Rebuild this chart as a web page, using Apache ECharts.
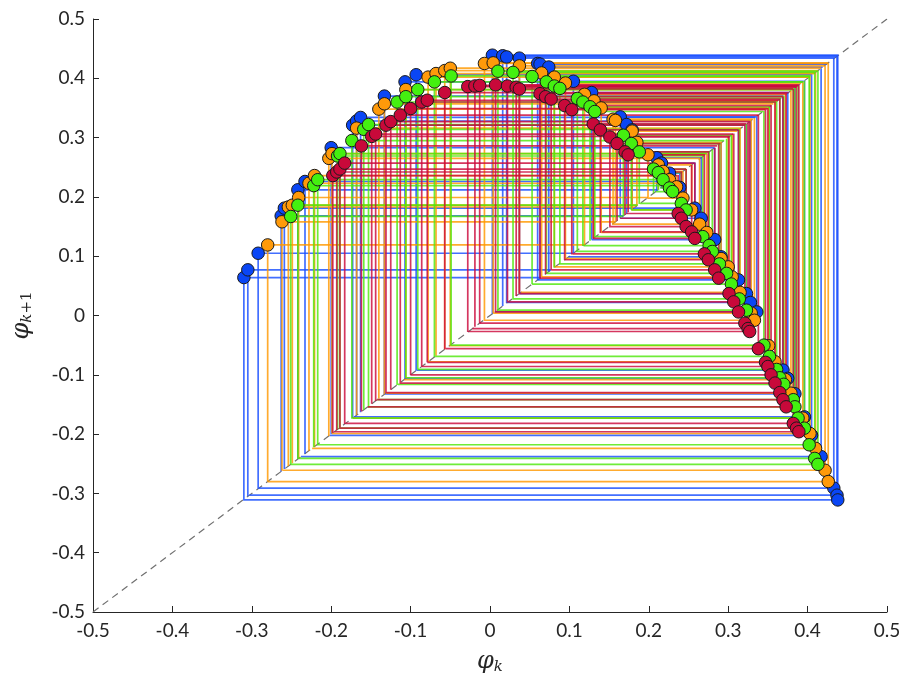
<!DOCTYPE html>
<html>
<head>
<meta charset="utf-8">
<script src="https://cdn.jsdelivr.net/npm/echarts@6/dist/echarts.min.js"></script>
<style>
  html, body { margin: 0; padding: 0; background: #fff; }
  #chart { width: 917px; height: 675px; }
</style>
</head>
<body>
<div id="chart"></div>
<script>
// Return-map points [phi_k, phi_k+1] for four trajectories.
const blueSeries = [
  [-0.310, 0.064], [-0.305, 0.077], [-0.292, 0.105], [-0.263, 0.168], [-0.259, 0.181],
  [-0.242, 0.212], [-0.233, 0.226], [-0.200, 0.283], [-0.173, 0.321], [-0.168, 0.328],
  [-0.163, 0.334], [-0.133, 0.370], [-0.107, 0.394], [-0.093, 0.406], [0.003, 0.439],
  [0.016, 0.438], [0.021, 0.436], [0.037, 0.434], [0.060, 0.425], [0.063, 0.424],
  [0.074, 0.419], [0.105, 0.395], [0.128, 0.376], [0.164, 0.335], [0.172, 0.322],
  [0.179, 0.313], [0.210, 0.266], [0.216, 0.257], [0.226, 0.240], [0.239, 0.216],
  [0.258, 0.181], [0.266, 0.164], [0.283, 0.128], [0.291, 0.099], [0.313, 0.060],
  [0.323, 0.037], [0.328, 0.022], [0.336, 0.006], [0.369, -0.092], [0.375, -0.106],
  [0.384, -0.132], [0.396, -0.171], [0.405, -0.202], [0.417, -0.238], [0.433, -0.291],
  [0.437, -0.303], [0.438, -0.311]
];
const orangeSeries = [
  [-0.280, 0.119], [-0.262, 0.158], [-0.254, 0.183], [-0.249, 0.186], [-0.241, 0.199],
  [-0.228, 0.223], [-0.221, 0.236], [-0.203, 0.265], [-0.199, 0.273], [-0.168, 0.316],
  [-0.140, 0.348], [-0.133, 0.357], [-0.106, 0.381], [-0.078, 0.402], [-0.068, 0.408],
  [-0.057, 0.413], [-0.050, 0.417], [-0.007, 0.425], [0.004, 0.426], [0.037, 0.421],
  [0.065, 0.409], [0.081, 0.402], [0.095, 0.392], [0.119, 0.373], [0.131, 0.362],
  [0.140, 0.350], [0.155, 0.331], [0.158, 0.329], [0.179, 0.311], [0.185, 0.292],
  [0.199, 0.271], [0.212, 0.254], [0.218, 0.243], [0.226, 0.229], [0.235, 0.217],
  [0.243, 0.198], [0.254, 0.178], [0.264, 0.154], [0.273, 0.140], [0.291, 0.096],
  [0.300, 0.082], [0.305, 0.065], [0.315, 0.039], [0.329, 0.004], [0.333, -0.008],
  [0.351, -0.051], [0.359, -0.078], [0.372, -0.108], [0.379, -0.131], [0.394, -0.173],
  [0.403, -0.199], [0.410, -0.224], [0.422, -0.261], [0.426, -0.280]
];
const greenSeries = [
  [-0.251, 0.167], [-0.242, 0.186], [-0.222, 0.219], [-0.217, 0.229], [-0.192, 0.269],
  [-0.189, 0.273], [-0.174, 0.295], [-0.159, 0.314], [-0.153, 0.322], [-0.117, 0.360],
  [-0.106, 0.369], [-0.091, 0.381], [-0.070, 0.394], [-0.049, 0.404], [0.010, 0.412],
  [0.029, 0.410], [0.053, 0.403], [0.071, 0.394], [0.081, 0.387], [0.088, 0.383],
  [0.110, 0.366], [0.117, 0.360], [0.126, 0.352], [0.132, 0.344], [0.168, 0.304],
  [0.178, 0.290], [0.188, 0.276], [0.206, 0.247], [0.212, 0.241], [0.218, 0.229],
  [0.226, 0.215], [0.230, 0.209], [0.241, 0.189], [0.247, 0.178], [0.268, 0.133],
  [0.276, 0.118], [0.280, 0.108], [0.289, 0.087], [0.298, 0.071], [0.304, 0.053],
  [0.314, 0.028], [0.323, 0.009], [0.345, -0.050], [0.352, -0.069], [0.361, -0.091],
  [0.365, -0.105], [0.370, -0.116], [0.382, -0.142], [0.384, -0.154], [0.388, -0.173],
  [0.396, -0.190], [0.402, -0.218], [0.409, -0.241], [0.413, -0.251]
];
const crimsonSeries = [
  [-0.198, 0.236], [-0.193, 0.242], [-0.189, 0.247], [-0.183, 0.257], [-0.162, 0.286],
  [-0.149, 0.302], [-0.144, 0.306], [-0.131, 0.321], [-0.125, 0.327], [-0.113, 0.338],
  [-0.100, 0.349], [-0.086, 0.360], [-0.079, 0.363], [-0.057, 0.376], [-0.028, 0.386],
  [-0.019, 0.387], [-0.013, 0.388], [0.007, 0.389], [0.022, 0.387], [0.033, 0.385],
  [0.037, 0.382], [0.063, 0.374], [0.070, 0.369], [0.077, 0.365], [0.094, 0.354],
  [0.103, 0.347], [0.130, 0.323], [0.139, 0.313], [0.151, 0.301], [0.160, 0.290],
  [0.170, 0.276], [0.174, 0.271], [0.237, 0.172], [0.241, 0.164], [0.247, 0.150],
  [0.254, 0.141], [0.258, 0.130], [0.270, 0.104], [0.275, 0.094], [0.283, 0.077],
  [0.288, 0.063], [0.301, 0.037], [0.307, 0.023], [0.313, 0.006], [0.321, -0.013],
  [0.325, -0.022], [0.327, -0.027], [0.338, -0.056], [0.347, -0.079], [0.350, -0.086],
  [0.354, -0.100], [0.359, -0.114], [0.365, -0.130], [0.369, -0.142], [0.373, -0.154],
  [0.382, -0.182], [0.386, -0.190], [0.389, -0.196]
];

const identityLine = [[-0.5, -0.5], [0.5, 0.5]];

const groups = [
  { data: blueSeries,    fill: '#0a46f5', line: '#1a4fff' },
  { data: orangeSeries,  fill: '#ff9a0a', line: '#ff9800' },
  { data: greenSeries,   fill: '#44f010', line: '#4fe80c' },
  { data: crimsonSeries, fill: '#c8093a', line: '#cc0a3c' }
];

const AXIS_COLOR = '#262626';
const LABEL_FONT = 'Lato, "Open Sans", sans-serif';

function fmt(v) {
  const r = Math.round(v * 10) / 10;
  return r === 0 ? '0' : String(r);
}

// Cobweb step for a point (a, b): vertical from (a, a) to (a, b),
// then horizontal across to (b, b) on the identity line.
function cobweb(color) {
  return function (params, api) {
    const a = api.value(0), b = api.value(1);
    return {
      type: 'polyline',
      shape: { points: [api.coord([a, a]), api.coord([a, b]), api.coord([b, b])] },
      style: { stroke: color, lineWidth: 1.7, fill: null, opacity: 0.82 }
    };
  };
}

const series = [{
  type: 'line',
  data: identityLine,
  symbol: 'none',
  silent: true,
  z: 1,
  lineStyle: { color: '#707070', width: 1.2, type: [7, 5] }
}];
groups.forEach(g => {
  series.push({
    type: 'custom',
    data: g.data,
    encode: { x: 0, y: 1 },
    renderItem: cobweb(g.line),
    silent: true,
    z: 2
  });
});
groups.forEach((g, i) => {
  series.push({
    type: 'scatter',
    data: g.data,
    symbol: 'circle',
    symbolSize: 12.5,
    z: 3 + i,
    itemStyle: { color: g.fill, borderColor: '#1a1a1a', borderWidth: 1, opacity: 1 }
  });
});

function axisCommon() {
  return {
    type: 'value',
    min: -0.5,
    max: 0.5,
    interval: 0.1,
    splitLine: { show: false },
    axisLine: { show: true, onZero: false, lineStyle: { color: AXIS_COLOR, width: 1 } },
    axisTick: { show: true, inside: true, length: 6, lineStyle: { color: AXIS_COLOR } },
    axisLabel: {
      color: '#262626', fontSize: 19, fontFamily: LABEL_FONT,
      formatter: fmt, showMinLabel: true, showMaxLabel: true
    },
    nameLocation: 'middle',
    nameTextStyle: {
      rich: {
        phi: { fontFamily: '"DejaVu Serif", serif', fontStyle: 'italic', fontSize: 24, color: '#262626' },
        sub: { fontFamily: '"DejaVu Serif", serif', fontStyle: 'italic', fontSize: 15, color: '#262626', padding: [12, 0, 0, 0] },
        num: { fontFamily: '"DejaVu Serif", serif', fontSize: 15, color: '#262626', padding: [12, 0, 0, 0] }
      }
    }
  };
}

const xAxis = Object.assign(axisCommon(), {
  name: '{phi|φ}{sub|k}',
  nameGap: 36
});
xAxis.axisLabel.margin = 9;

const yAxis = Object.assign(axisCommon(), {
  name: '{phi|φ}{sub|k}{num|+1}',
  nameGap: 58,
  nameRotate: 90
});
yAxis.axisLabel.margin = 8;

const chart = echarts.init(document.getElementById('chart'), null, { renderer: 'canvas' });
chart.setOption({
  animation: false,
  backgroundColor: '#ffffff',
  grid: { left: 93, right: 30, top: 19, bottom: 63, containLabel: false, outerBoundsMode: 'none' },
  xAxis: xAxis,
  yAxis: yAxis,
  series: series
});
</script>
</body>
</html>
